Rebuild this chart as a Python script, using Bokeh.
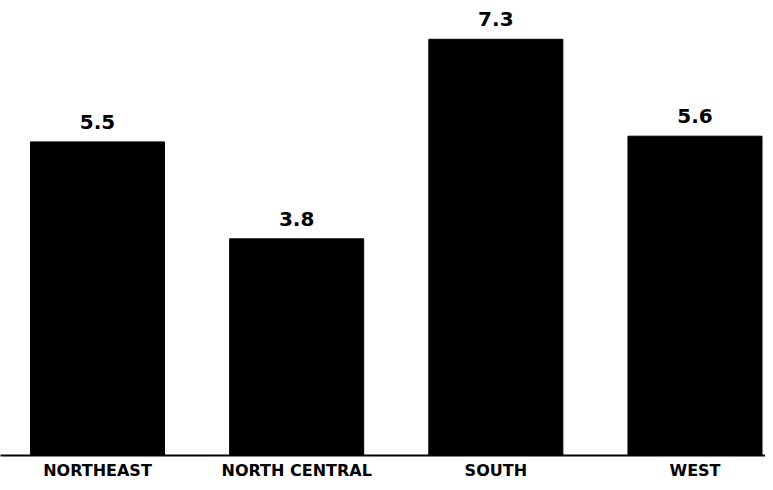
from bokeh.plotting import figure
from bokeh.models import Range1d, ColumnDataSource, FixedTicker
from bokeh.core.properties import value
from bokeh.embed import file_html
from bokeh.resources import INLINE

regions = ["NORTHEAST", "NORTH CENTRAL", "SOUTH", "WEST"]
values = [5.5, 3.8, 7.3, 5.6]
labels = ["5.5", "3.8", "7.3", "5.6"]

xs = list(range(len(regions)))
src = ColumnDataSource(dict(x=xs, top=values, lab=labels))

p = figure(width=765, height=482, output_backend="svg", toolbar_location=None,
           x_range=Range1d(-0.487, 3.354), y_range=Range1d(0, 7.98),
           min_border_left=0, min_border_right=0, min_border_top=0, min_border_bottom=27)
p.outline_line_color = None
p.xgrid.visible = False
p.ygrid.visible = False
p.yaxis.visible = False
p.background_fill_color = "white"
p.border_fill_color = "white"

p.vbar(x="x", top="top", bottom=0, width=0.673, source=src,
       fill_color="black", line_color="black")

p.text(x="x", y="top", text="lab", source=src, y_offset=-13,
       text_align="center", text_baseline="bottom",
       text_font=value("DejaVu Sans"), text_font_style="bold",
       text_font_size="20px", text_color="black")

ax = p.xaxis[0]
ax.ticker = FixedTicker(ticks=xs)
ax.major_label_overrides = {i: r for i, r in zip(xs, regions)}
ax.major_tick_line_color = None
ax.minor_tick_line_color = None
ax.major_tick_out = 0
ax.major_label_standoff = 5
ax.axis_line_color = "black"
ax.axis_line_width = 2
ax.major_label_text_font = "DejaVu Sans"
ax.major_label_text_font_style = "bold"
ax.major_label_text_font_size = "16px"
ax.major_label_text_color = "black"

open("out.html", "w").write(file_html(p, INLINE))
